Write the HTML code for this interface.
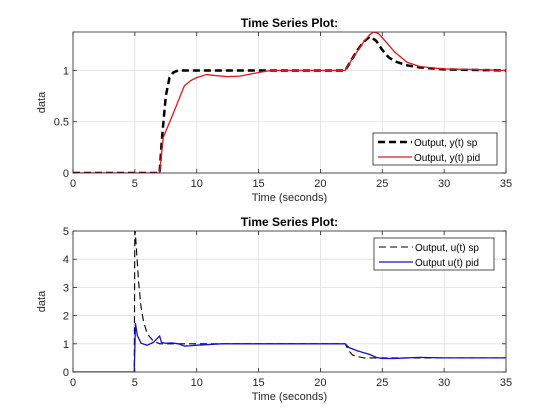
<!DOCTYPE html>
<html><head><meta charset="utf-8"><style>
html,body{margin:0;padding:0;background:#fff;}
svg{display:block;font-family:"Liberation Sans",Arial,sans-serif;}
</style></head><body>
<svg id="fig" width="560" height="420" viewBox="0 0 560 420" xmlns="http://www.w3.org/2000/svg">
<rect width="560" height="420" fill="#ffffff"/>
</svg>
<script>
// ---- data ----
const xTicks = [0,5,10,15,20,25,30,35];
const yTicksTop = [0,0.5,1];
const yTickLabelsTop = ['0','0.5','1'];
const yTicksBot = [0,1,2,3,4,5];
const ySpT = [0,4.9,7,7.2,7.5,7.8,8.1,8.5,9,22,22.5,23,23.5,24,24.5,25,25.5,26,27,28,30,35];
const ySpV = [0,0,0,0.35,0.75,0.93,0.98,1,1,1,1.1,1.2,1.28,1.33,1.29,1.2,1.13,1.09,1.05,1.03,1.01,1.0];
const yPidT = [0,7,7.3,8,8.5,9,9.5,10,10.8,11.5,12.5,13.5,15,16,22,22.5,23,23.5,24,24.3,24.7,25,25.5,26,27,28,29,30,32,35];
const yPidV = [0,0,0.35,0.55,0.7,0.85,0.9,0.93,0.96,0.95,0.94,0.945,0.98,1.0,1.0,1.1,1.19,1.28,1.35,1.375,1.36,1.32,1.25,1.18,1.08,1.04,1.025,1.015,1.01,1.0];
const uSpT = [0,4.95,5.0,5.15,5.3,5.5,5.7,6,6.5,7,22,22.3,22.6,23,23.5,24,25,35];
const uSpV = [0,0,5.2,4.2,3.2,2.3,1.8,1.35,1.1,1.0,1.0,0.75,0.6,0.55,0.5,0.5,0.5,0.5];
const uPidT = [0,4.95,5.05,5.2,5.5,6,6.5,7.0,7.15,7.5,8,8.5,9,9.5,10,12,22,22.3,23,24,24.5,25,26,28,30,35];
const uPidV = [0,0,1.72,1.3,1.02,0.95,1.05,1.28,1.05,1.02,1.03,1.0,0.92,0.93,0.95,1.0,1.0,0.87,0.75,0.62,0.52,0.48,0.48,0.52,0.5,0.5];

const NS='http://www.w3.org/2000/svg';
const svg=document.getElementById('fig');
function mk(tag,attrs,parent){const e=document.createElementNS(NS,tag);for(const k in attrs)e.setAttribute(k,attrs[k]);(parent||svg).appendChild(e);return e;}

function drawAxes(cfg){
  const L=73,R=506,T=cfg.top,B=cfg.bottom;
  const xs=t=>L+(t-0)/35*(R-L);
  const ys=v=>B-(v-cfg.ymin)/(cfg.ymax-cfg.ymin)*(B-T);
  const g=mk('g',{});
  
  
  mk('rect',{x:L,y:T,width:R-L,height:B-T,fill:'#fff'},g);
  const clip=mk('clipPath',{id:cfg.name+'-clip'},g);
  mk('rect',{x:L,y:T,width:R-L,height:B-T},clip);
  xTicks.forEach(t=>{
    const x=xs(t);
    const gl=mk('line',{x1:x,x2:x,y1:T,y2:B,stroke:'#dfdfdf','stroke-width':0.8},g);
    
    
    mk('line',{x1:x,x2:x,y1:B,y2:B-4,stroke:'#262626','stroke-width':0.8},g);
    mk('line',{x1:x,x2:x,y1:T,y2:T+4,stroke:'#262626','stroke-width':0.8},g);
    const tl=mk('text',{x:x,y:B+14,'font-size':11,fill:'#262626','text-anchor':'middle'},g);
    tl.textContent=String(t);
    
    
  });
  cfg.yt.forEach((v,i)=>{
    const y=ys(v);
    const gl=mk('line',{x1:L,x2:R,y1:y,y2:y,stroke:'#dfdfdf','stroke-width':0.8},g);
    
    
    mk('line',{x1:L,x2:L+4,y1:y,y2:y,stroke:'#262626','stroke-width':0.8},g);
    mk('line',{x1:R,x2:R-4,y1:y,y2:y,stroke:'#262626','stroke-width':0.8},g);
    const tl=mk('text',{x:L-4,y:y+4,'font-size':11,fill:'#262626','text-anchor':'end'},g);
    tl.textContent=cfg.ytl[i];
    
    
  });
  cfg.series.forEach(s=>{
    const d=s.t.map((t,i)=>(i?'L':'M')+xs(t).toFixed(2)+','+ys(s.v[i]).toFixed(2)).join(' ');
    const p=mk('path',{d:d,fill:'none',stroke:s.color,'stroke-width':s.w,'stroke-dasharray':s.dash||'none','clip-path':'url(#'+cfg.name+'-clip)','stroke-linejoin':'round'},g);
    
    
  });
  mk('rect',{x:L,y:T,width:R-L,height:B-T,fill:'none',stroke:'#262626','stroke-width':0.8},g);
  const ti=mk('text',{x:(L+R)/2,y:T-5,'font-size':12,'font-weight':'bold',fill:'#000','text-anchor':'middle'},g);
  ti.textContent='Time Series Plot:';
  
  
  const xl=mk('text',{x:(L+R)/2,y:B+28,'font-size':11,fill:'#262626','text-anchor':'middle'},g);
  xl.textContent='Time (seconds)';
  
  
  const yl=mk('text',{x:0,y:0,'font-size':11,fill:'#262626','text-anchor':'middle',transform:'translate(45,'+((T+B)/2)+') rotate(-90)'},g);
  yl.textContent='data';
  
  
  const lg=cfg.legend;
  const lgG=mk('g',{},g);
  
  
  mk('rect',{x:lg.x,y:lg.y,width:lg.w,height:32,fill:'#fff',stroke:'#262626','stroke-width':0.8},lgG);
  cfg.series.forEach((s,i)=>{
    const yy=lg.y+9+i*15;
    const e=mk('g',{},lgG);
    
    
    mk('line',{x1:lg.x+5,x2:lg.x+39,y1:yy,y2:yy,stroke:s.color,'stroke-width':s.w,'stroke-dasharray':s.dash||'none'},e);
    const t=mk('text',{x:lg.x+41,y:yy+4,'font-size':10,fill:'#000'},e);
    t.textContent=s.label;
  });
}

drawAxes({name:'top-axes',top:32,bottom:173,ymin:0,ymax:1.375,yt:yTicksTop,ytl:yTickLabelsTop,
  legend:{x:373,y:133,w:124},
  series:[
    {name:'y-sp-line',t:ySpT,v:ySpV,color:'#000',w:2.5,dash:'7,4',label:'Output, y(t) sp'},
    {name:'y-pid-line',t:yPidT,v:yPidV,color:'#e8141b',w:1.3,label:'Output, y(t) pid'}
  ]});
drawAxes({name:'bottom-axes',top:231,bottom:372,ymin:0,ymax:5,yt:yTicksBot,ytl:yTicksBot.map(String),
  legend:{x:374,y:238,w:120},
  series:[
    {name:'u-sp-line',t:uSpT,v:uSpV,color:'#000',w:1.1,dash:'7,4',label:'Output, u(t) sp'},
    {name:'u-pid-line',t:uPidT,v:uPidV,color:'#1010d8',w:1.3,label:'Output u(t) pid'}
  ]});
</script>
</body></html>
